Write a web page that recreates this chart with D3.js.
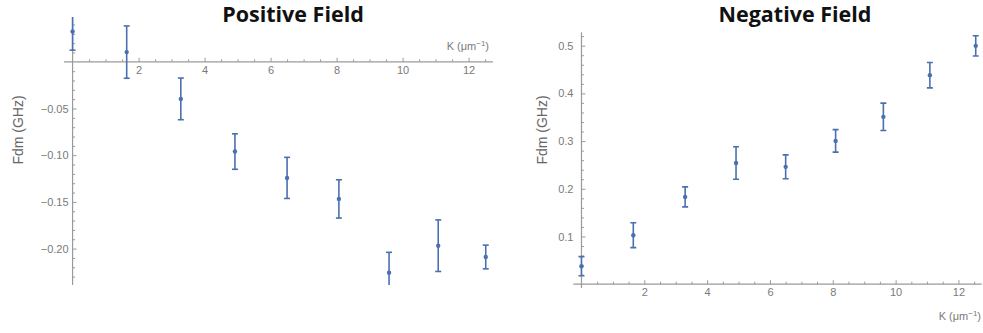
<!DOCTYPE html>
<html><head><meta charset="utf-8">
<script src="https://cdn.jsdelivr.net/npm/d3@7"></script>
<style>
html,body{margin:0;padding:0;background:#fff;}
svg{display:block;}
.tick text{font-family:"Liberation Sans",Arial,sans-serif;font-size:11px;fill:#7a7a7a;}
</style></head>
<body>
<svg id="chart" width="983" height="333"></svg>
<script>
// ---- data ----
const kPos = [0, 1.64, 3.28, 4.92, 6.50, 8.07, 9.59, 11.08, 12.52];
const fPos = [0.0325, 0.0104, -0.0397, -0.0961, -0.1243, -0.1468, -0.2258, -0.1969, -0.2090];
const ePos = [0.020, 0.028, 0.0223, 0.019, 0.022, 0.0205, 0.0218, 0.0276, 0.0127];

const kNeg = [0, 1.65, 3.30, 4.92, 6.50, 8.09, 9.61, 11.09, 12.55];
const fNeg = [0.0377, 0.1027, 0.183, 0.254, 0.246, 0.3004, 0.3508, 0.4382, 0.4996];
const eNeg = [0.020, 0.026, 0.021, 0.034, 0.025, 0.0235, 0.0287, 0.0266, 0.0212];

const xMajor = [2, 4, 6, 8, 10, 12];
const yMajorPos = [-0.05, -0.10, -0.15, -0.20];
const yMajorNeg = [0.1, 0.2, 0.3, 0.4, 0.5];
const titles = ["Positive Field", "Negative Field"];
const yTitle = "Fdm (GHz)";

const svg = d3.select("#chart");
const axisColor = "#9a9a9a";
const barColor = "#4b70af";

function rangeStep(a, b, s) { const out = []; for (let v = a; v <= b + 1e-9; v += s) out.push(+v.toFixed(4)); return out; }

function panel(cfg) {
  const g = svg.append("g");
  const x = d3.scaleLinear().domain(cfg.xDom).range(cfg.xRange);
  const y = d3.scaleLinear().domain(cfg.yDom).range(cfg.yRange);
  const x0 = x(0), y0 = y(0);

  const xMinor = rangeStep(0.5, 12.5, 0.5).filter(v => xMajor.indexOf(v) < 0);
  g.append("g").attr("transform", `translate(0,${y0})`)
    .call(d3.axisBottom(x).tickValues(xMinor).tickSize(-2.5).tickFormat(""))
    .call(a => a.select(".domain").remove())
    .call(a => a.selectAll("line").attr("stroke", axisColor));
  g.append("g").attr("transform", `translate(0,${y0})`)
    .call(d3.axisBottom(x).tickValues(xMajor).tickSize(-4).tickPadding(cfg.xPad).tickFormat(d3.format("d")))
    .call(a => a.select(".domain").remove())
    .call(a => a.selectAll("line").attr("stroke", axisColor));
  g.append("line").attr("x1", cfg.xRange[0]).attr("x2", cfg.xRange[1])
    .attr("y1", y0).attr("y2", y0).attr("stroke", axisColor).attr("stroke-width", 1.2);

  g.append("g").attr("transform", `translate(${x0},0)`)
    .call(d3.axisLeft(y).tickValues(cfg.yMinor).tickSize(-2.5).tickFormat(""))
    .call(a => a.select(".domain").remove())
    .call(a => a.selectAll("line").attr("stroke", axisColor));
  g.append("g").attr("transform", `translate(${x0},0)`)
    .call(d3.axisLeft(y).tickValues(cfg.yMajor).tickSize(-4).tickPadding(cfg.yPad).tickFormat(cfg.yFmt))
    .call(a => a.select(".domain").remove())
    .call(a => a.selectAll("line").attr("stroke", axisColor));
  g.append("line").attr("x1", x0).attr("x2", x0)
    .attr("y1", cfg.yRange[0]).attr("y2", cfg.yRange[1]).attr("stroke", axisColor).attr("stroke-width", 1.2);

  const cid = "clip" + cfg.id;
  svg.append("clipPath").attr("id", cid).append("rect")
    .attr("x", cfg.xRange[0]).attr("y", Math.min(...cfg.yRange))
    .attr("width", cfg.xRange[1] - cfg.xRange[0]).attr("height", Math.abs(cfg.yRange[1] - cfg.yRange[0]));
  const d = cfg.k.map((k, i) => ({ k, f: cfg.f[i], e: cfg.e[i] }));
  const pg = g.append("g").attr("clip-path", `url(#${cid})`);
  const eb = pg.selectAll("g.eb").data(d).join("g").attr("class", "eb");
  eb.append("line").attr("x1", p => x(p.k)).attr("x2", p => x(p.k))
    .attr("y1", p => y(p.f + p.e)).attr("y2", p => y(p.f - p.e))
    .attr("stroke", barColor).attr("stroke-width", 1.6);
  eb.append("line").attr("x1", p => x(p.k) - 3).attr("x2", p => x(p.k) + 3)
    .attr("y1", p => y(p.f + p.e)).attr("y2", p => y(p.f + p.e))
    .attr("stroke", barColor).attr("stroke-width", 1.6);
  eb.append("line").attr("x1", p => x(p.k) - 3).attr("x2", p => x(p.k) + 3)
    .attr("y1", p => y(p.f - p.e)).attr("y2", p => y(p.f - p.e))
    .attr("stroke", barColor).attr("stroke-width", 1.6);
  eb.append("circle").attr("cx", p => x(p.k)).attr("cy", p => y(p.f)).attr("r", 2.2).attr("fill", barColor);

  svg.append("text").attr("x", cfg.titleX).attr("y", 22).attr("text-anchor", "middle")
    .attr("font-family", "'Open Sans', sans-serif").attr("font-weight", 700).attr("font-size", 21.5)
    .attr("fill", "#111").text(cfg.title);
  svg.append("text").attr("transform", `translate(${cfg.yTitleX},130) rotate(-90)`)
    .attr("text-anchor", "middle").attr("dominant-baseline", "middle")
    .attr("font-family", "'Liberation Sans', Arial, sans-serif").attr("font-size", 14)
    .attr("fill", "#666").text(yTitle);
  const kt = svg.append("text").attr("x", cfg.kX).attr("y", cfg.kY).attr("text-anchor", "end")
    .attr("font-family", "'Liberation Sans', Arial, sans-serif").attr("font-size", 11).attr("fill", "#7a7a7a");
  kt.append("tspan").text("K (μm");
  kt.append("tspan").attr("dy", -4).attr("font-size", 8).text("−1");
  kt.append("tspan").attr("dy", 4).text(")");
}

panel({
  id: "pos", k: kPos, f: fPos, e: ePos,
  xDom: [-0.26, 12.74], xRange: [64, 493],
  yDom: [0.048, -0.239], yRange: [17, 285],
  yMajor: yMajorPos, yMinor: rangeStep(-0.23, 0.04, 0.01).filter(v => Math.abs(v) > 1e-9 && yMajorPos.indexOf(v) < 0),
  yFmt: d3.format(".2f"), xPad: 4, yPad: 4,
  title: titles[0], titleX: 293, yTitleX: 19, kX: 489, kY: 50
});
panel({
  id: "neg", k: kNeg, f: fNeg, e: eNeg,
  xDom: [-0.26, 12.74], xRange: [573.3, 981.7],
  yDom: [0.528, -0.008], yRange: [32.3, 288],
  yMajor: yMajorNeg, yMinor: rangeStep(0.02, 0.52, 0.02).filter(v => yMajorNeg.indexOf(+v.toFixed(2)) < 0),
  yFmt: d3.format(".1f"), xPad: 4, yPad: 8,
  title: titles[1], titleX: 795, yTitleX: 543, kX: 981, kY: 320
});
</script>
</body></html>
